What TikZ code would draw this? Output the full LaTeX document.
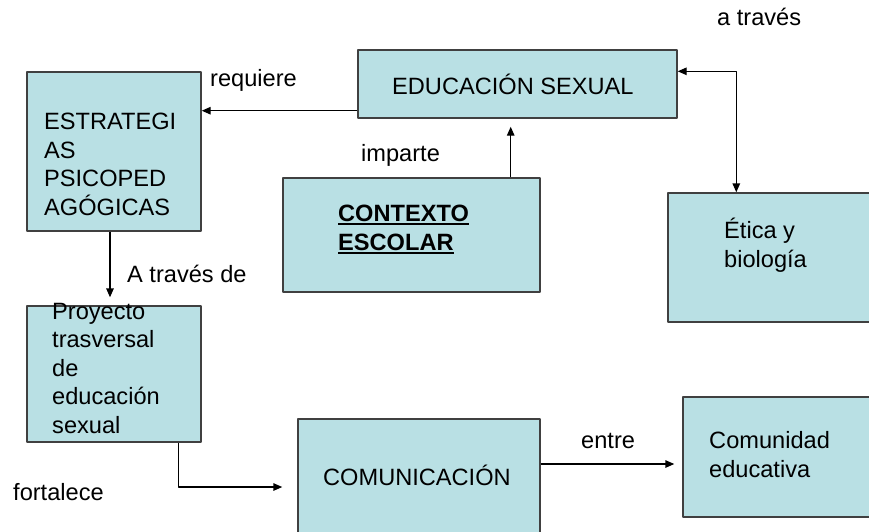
\documentclass[tikz,border=0pt]{standalone}
\usepackage{fontspec}
\setmainfont{Liberation Sans}
\usetikzlibrary{positioning,fit,arrows.meta}
\definecolor{celeste}{RGB}{185,224,228}
\newcommand{\subrayado}[1]{{\setbox0\hbox{#1}\rlap{\raisebox{-3.5pt}{\rule{\wd0}{1.8pt}}}\box0}}
\tikzset{
  caja/.style={draw=black!75, fill=celeste, line width=1.4pt, inner sep=0pt},
  texto/.style={font=\fontsize{23.6}{28.5}\selectfont, align=left, inner sep=0pt, anchor=base west},
  negrita/.style={texto, font=\fontsize{23.6}{28.5}\selectfont\bfseries},
  flecha/.style={-{Triangle[length=9pt,width=7.5pt]}, line width=1.4pt},
  flechas/.style={{Triangle[length=9pt,width=7.5pt]}-{Triangle[length=9pt,width=7.5pt]}, line width=1.4pt}
}
\begin{document}
\begin{tikzpicture}[x=1pt, y=-1pt, line join=round]
  \useasboundingbox (0,0) rectangle (869,531);
  % cajas
  \node[caja, fit={(358,50) (677,118)}] (edu) {};
  \node[caja, fit={(27,72) (201,231)}] (estr) {};
  \node[caja, fit={(283,178) (540,292)}] (ctx) {};
  \node[caja, fit={(668,193) (880,322)}] (etica) {};
  \node[caja, fit={(27,306) (201,442)}] (proy) {};
  \node[caja, fit={(298,419) (540,555)}] (com) {};
  \node[caja, fit={(683,397) (880,517)}] (comu) {};
  % textos de las cajas (base = ultima linea)
  \node[texto] (tedu) at (392,94) {EDUCACIÓN SEXUAL};
  \node[texto] (testr) at (44,215) {ESTRATEGI\\AS\\PSICOPED\\AGÓGICAS};
  \node[negrita] (tctx) at (338,250) {\subrayado{CONTEXTO}\\\subrayado{ESCOLAR}};
  \node[texto] (tetica) at (724,267) {Ética y\\biología};
  \node[texto] (tproy) at (52,433) {Proyecto\\trasversal\\de\\educación\\sexual};
  \node[texto] (tcom) at (323,485) {COMUNICACIÓN};
  \node[texto] (tcomu) at (709,477) {Comunidad\\educativa};
  % etiquetas
  \node[texto] (lreq) at (210,86) {requiere};
  \node[texto] (limp) at (361,161) {imparte};
  \node[texto] (latr) at (717,25) {a través};
  \node[texto] (latd) at (127,282) {A través de};
  \node[texto] (lfor) at (13,500) {fortalece};
  \node[texto] (lent) at (581,448) {entre};
  % flechas
  \draw[flecha] ([yshift=8pt]edu.south west) coordinate (r1) -- (r1 -| estr.east);
  \draw[flecha, shorten >=8pt] ([xshift=-30pt]ctx.north east) coordinate (i1) -- (i1 |- edu.south);
  \draw[flechas] ([yshift=-22pt]edu.north east) -| ([xshift=69pt]etica.north west);
  \draw[flecha, shorten >=8pt] ([xshift=-4pt]estr.south) coordinate (a1) -- (a1 |- proy.north);
  \draw[flecha, shorten >=15pt] ([xshift=-23pt]proy.south east) |- (com.west);
  \draw[flecha, shorten >=8pt] ([yshift=23pt]com.east) coordinate (e1) -- (e1 -| comu.west);
\end{tikzpicture}
\end{document}
